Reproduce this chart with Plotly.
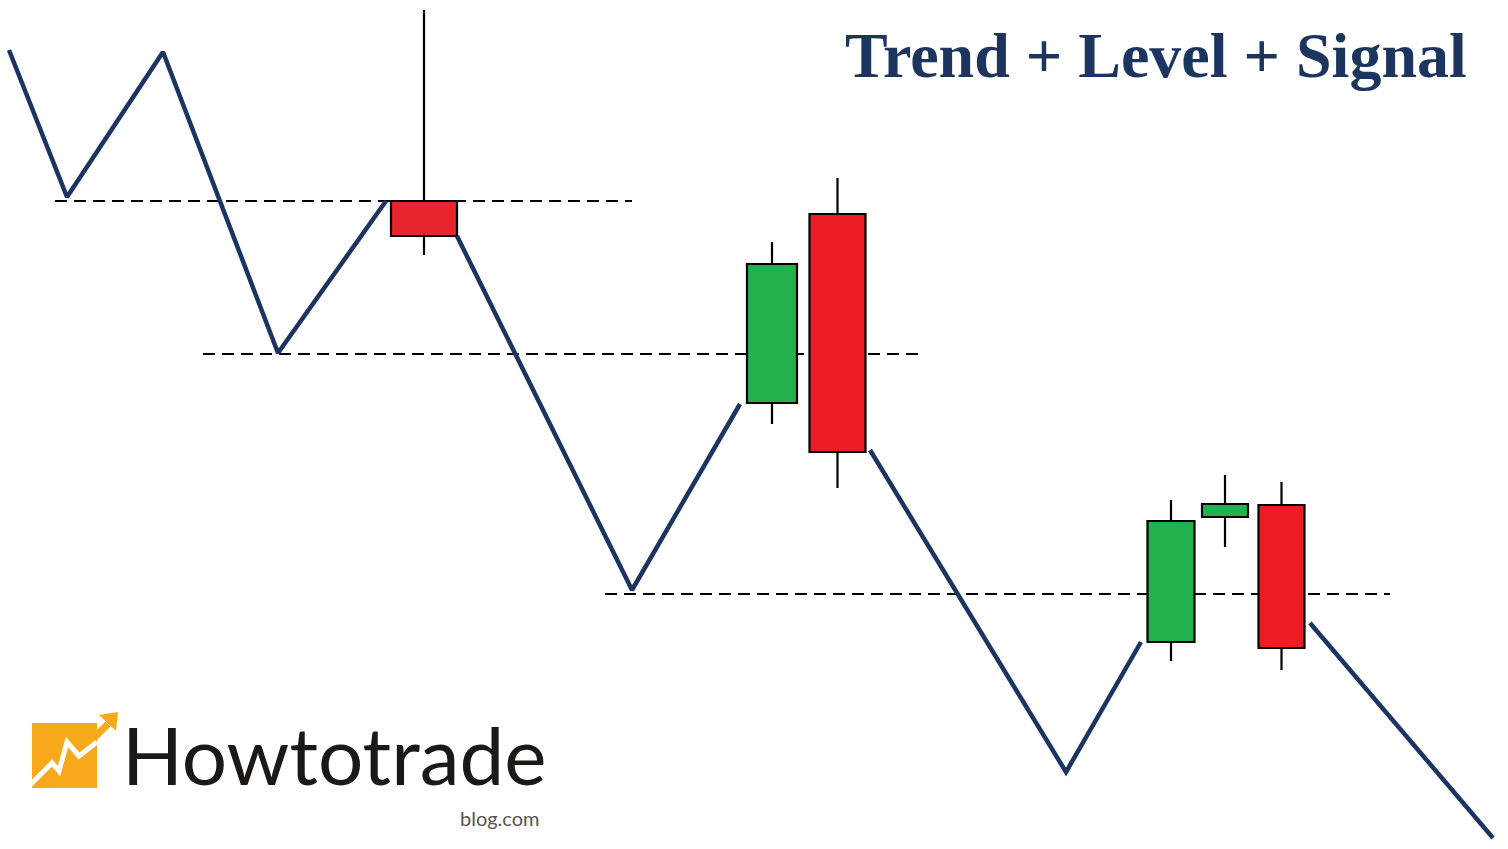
import plotly.graph_objects as go

# ---- data (units are picture positions, y grows downward) ----
trend_x = [9, 67, 163, 278, 386, None, 457, 632, 740, None, 870, 1066, 1141, None, 1310, 1493]
trend_y = [50, 197, 52, 353, 201, None, 236, 590, 404, None, 450, 772, 642, None, 623, 838]

level_y = [201, 354, 594]
level_x0 = [55, 203, 605]
level_x1 = [632, 920, 1390]

candle_x = [424, 772, 837.5, 1171, 1225, 1281.5]
candle_w = [66, 50, 56, 47, 46, 46]
candle_high = [10, 242, 178, 500, 475, 482]
candle_top = [201, 264, 214, 521, 504, 505]
candle_bottom = [236, 403, 452, 642, 517, 648]
candle_low = [255, 424, 488, 661, 547, 670]
candle_fill = ["#e8262e", "#22b14c", "#ec1c24", "#22b14c", "#22b14c", "#ec1c24"]

title_text = "Trend + Level + Signal"
brand_text = "Howtotrade"
brand_sub = "blog.com"

NAVY = "#1c3461"
ORANGE = "#f7a81b"

fig = go.Figure()

# trend zig-zag
fig.add_trace(go.Scatter(x=trend_x, y=trend_y, mode="lines",
                         line=dict(color=NAVY, width=4.5), hoverinfo="skip",
                         showlegend=False))

# wicks (upper and lower parts, so they do not cross the bodies)
wx, wy = [], []
for x, h, t, b, l in zip(candle_x, candle_high, candle_top, candle_bottom, candle_low):
    wx += [x, x, None, x, x, None]
    wy += [h, t, None, b, l, None]
fig.add_trace(go.Scatter(x=wx, y=wy, mode="lines", line=dict(color="black", width=2.2),
                         hoverinfo="skip", showlegend=False))

# candle bodies
fig.add_trace(go.Bar(
    x=candle_x,
    base=candle_top,
    y=[b - t for t, b in zip(candle_top, candle_bottom)],
    width=candle_w,
    marker=dict(color=candle_fill, line=dict(color="black", width=2.2)),
    hoverinfo="skip", showlegend=False))

# dashed levels (beneath everything)
for y, x0, x1 in zip(level_y, level_x0, level_x1):
    fig.add_shape(type="line", xref="x", yref="y", x0=x0, x1=x1, y0=y, y1=y,
                  line=dict(color="black", width=2, dash="12px,7px"), layer="below")

# logo mark
fig.add_shape(type="rect", xref="x", yref="y", x0=32, x1=97, y0=723, y1=788,
              fillcolor=ORANGE, line=dict(width=0), layer="above")
fig.add_shape(type="line", xref="x", yref="y", x0=86, y0=746, x1=108, y1=724,
              line=dict(color=ORANGE, width=7), layer="above")
fig.add_shape(type="path", xref="x", yref="y",
              path="M 99 715 L 118 712 L 116 731 Z",
              fillcolor=ORANGE, line=dict(width=0), layer="above")
fig.add_shape(type="path", xref="x", yref="y",
              path="M 29 786 L 52 763 L 59 771 L 67 742 L 79 756 L 97 742",
              line=dict(color="white", width=5), layer="above")

# texts
fig.add_annotation(x=1469, y=55, xref="x", yref="y", text=title_text, showarrow=False,
                   xanchor="right", yanchor="middle",
                   font=dict(family="Liberation Serif", size=64, color="#1c355e", weight="bold"))
fig.add_annotation(x=120, y=754, xref="x", yref="y", text=brand_text, showarrow=False,
                   xanchor="left", yanchor="middle",
                   font=dict(family="Lato", size=80, color="#1b1815"))
fig.add_annotation(x=542, y=818, xref="x", yref="y", text=brand_sub, showarrow=False,
                   xanchor="right", yanchor="middle",
                   font=dict(family="Lato", size=20, color="#555555"))

fig.update_layout(
    width=1508, height=849,
    margin=dict(l=0, r=0, t=0, b=0),
    paper_bgcolor="white", plot_bgcolor="white",
    xaxis=dict(range=[0, 1508], visible=False, fixedrange=True),
    yaxis=dict(range=[849, 0], visible=False, fixedrange=True),
    showlegend=False,
)

fig.write_html("out.html", config={"displayModeBar": False},
               post_script="document.body.style.margin='0px';document.body.style.overflow='hidden';")
